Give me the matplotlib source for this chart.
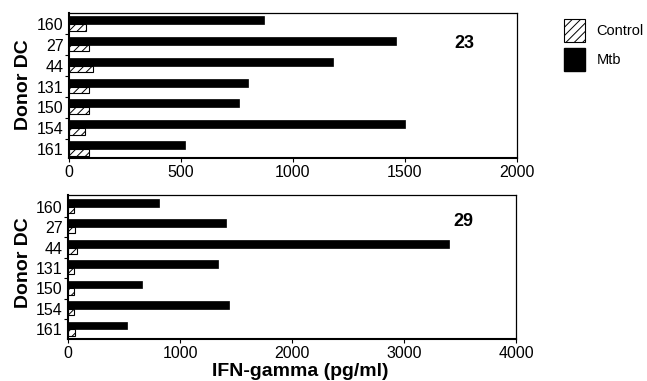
import matplotlib

matplotlib.use("Agg")

import matplotlib.pyplot as plt
import numpy as np
from matplotlib.patches import Patch

plt.rcParams["font.family"] = ["Liberation Sans", "DejaVu Sans"]
plt.rcParams["hatch.linewidth"] = 0.7

donors = ["160", "27", "44", "131", "150", "154", "161"]

# panel 23
mtb_23 = [870, 1460, 1180, 800, 760, 1500, 520]
ctrl_23 = [75, 90, 105, 90, 90, 70, 90]

# panel 29
mtb_29 = [810, 1410, 3400, 1340, 660, 1440, 530]
ctrl_29 = [55, 60, 80, 55, 55, 50, 60]

W, H = 647, 381
fig = plt.figure(figsize=(W / 100, H / 100), dpi=100)
HATCH = "////"


def draw_panel(rect, mtb, ctrl, xmax, step, ylim, tag, tag_y):
    ax = fig.add_axes(rect)
    pos = np.arange(len(donors))
    ax.barh(pos, mtb, height=-0.38, align="edge", color="black", edgecolor="black", linewidth=0.5)
    ax.barh(pos, ctrl, height=0.31, align="edge", facecolor="white", edgecolor="black",
            linewidth=0.8, hatch=HATCH)
    ax.set_xlim(0, xmax)
    ax.set_ylim(*ylim)
    ax.set_xticks(np.arange(0, xmax + 1, step))
    ax.set_yticks(pos)
    ax.set_yticklabels(donors)
    ax.set_yticks(pos[:-1] + 0.5, minor=True)
    ax.tick_params(axis="y", which="major", length=0, pad=4, labelsize=11.5)
    ax.tick_params(axis="y", which="minor", length=3, width=0.8, direction="out")
    ax.tick_params(axis="x", length=3, width=0.8, direction="out", pad=2, labelsize=11.5)
    for side in ("left", "bottom"):
        ax.spines[side].set_linewidth(1.5)
    for side in ("top", "right"):
        ax.spines[side].set_linewidth(0.9)
    ax.text(0.882, tag_y, tag, transform=ax.transAxes, ha="center", va="center",
            fontsize=13, fontweight="bold")
    return ax


ax1 = draw_panel([69 / W, 1 - 158 / H, 448 / W, 145 / H], mtb_23, ctrl_23, 2000, 500,
                 (6.43, -0.53), "23", 0.793)
ax2 = draw_panel([68 / W, 1 - 339 / H, 448 / W, 144 / H], mtb_29, ctrl_29, 4000, 1000,
                 (6.47, -0.57), "29", 0.8125)

fig.text(24 / W, 1 - 85 / H, "Donor DC", rotation=90, ha="center", va="center",
         fontsize=14, fontweight="bold")
fig.text(24 / W, 1 - 263 / H, "Donor DC", rotation=90, ha="center", va="center",
         fontsize=14, fontweight="bold")
fig.text(300 / W, 1 - 372 / H, "IFN-gamma (pg/ml)", ha="center", va="center",
         fontsize=14, fontweight="bold")

handles = [
    Patch(facecolor="white", edgecolor="black", linewidth=0.8, hatch=HATCH, label="Control"),
    Patch(facecolor="black", edgecolor="black", label="Mtb"),
]
fig.legend(handles=handles, loc="upper left", bbox_to_anchor=(554 / W, 1 - 9 / H),
           frameon=False, fontsize=10.5, handlelength=1.4, handleheight=2.0,
           labelspacing=0.45, handletextpad=0.8, borderpad=0.2)

fig.savefig("out.png", dpi=100)
